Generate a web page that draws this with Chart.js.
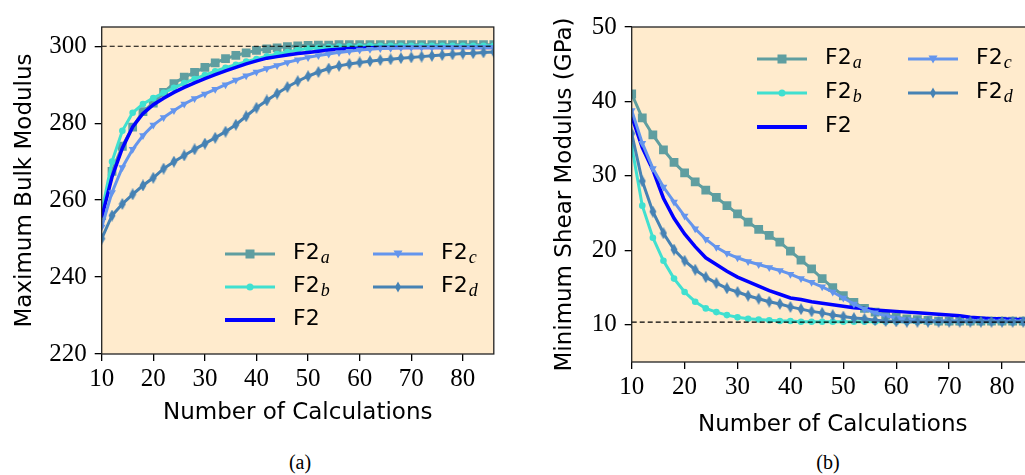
<!DOCTYPE html>
<html>
<head>
<meta charset="utf-8">
<script src="https://cdn.jsdelivr.net/npm/chart.js@4.4.1/dist/chart.umd.min.js"></script>
<style>
    body { margin: 0; width: 1025px; height: 475px; overflow: hidden; background: #fff; position: relative; }
    .panel { position: absolute; top: 0; }
    .caption { position: absolute; font-family: 'Liberation Serif', serif; font-size: 20px; transform: translateX(-50%); color: #000; }
    .item { position: absolute; display: flex; align-items: center; height: 30px; font-family: 'DejaVu Sans', sans-serif; font-size: 22px; color: #000; }
    .item svg { position: absolute; top: 8px; }
    .item span { position: absolute; white-space: nowrap; top: 0px; }
    .item sub { font-family: 'Liberation Serif', serif; font-style: italic; font-size: 18px; vertical-align: -4px; margin-left: 1px; }
</style>
</head>
<body>
<div class="panel" style="left:0;width:500px;height:440px"><canvas id="bulkChart" width="500" height="440"></canvas></div>
<div class="panel" style="left:540px;width:500px;height:450px"><canvas id="shearChart" width="500" height="450"></canvas></div>
<div class="caption" style="left:300px;top:451px">(a)</div>
<div class="caption" style="left:828px;top:451px">(b)</div>
<div id="bulkLegend"></div>
<div id="shearLegend"></div>

<script>
// Numero de calculos (eje x, comun a ambos paneles)
const calcCounts = [10, 12, 14, 16, 18, 20, 22, 24, 26, 28, 30, 32, 34, 36, 38, 40, 42, 44, 46, 48,
    50, 52, 54, 56, 58, 60, 62, 64, 66, 68, 70, 72, 74, 76, 78, 80, 82, 84, 86];

// (a) Maximum Bulk Modulus
const bulkF2a = [256, 267.5, 274, 279, 283, 285.2, 288, 290.3, 292, 293.2, 294.5, 295.7, 296.8, 297.6, 298.3, 298.9, 299.3, 299.6, 299.9, 300.1,
    300.2, 300.3, 300.3, 300.4, 300.4, 300.4, 300.4, 300.4, 300.4, 300.4, 300.4, 300.4, 300.4, 300.4, 300.4, 300.4, 300.4, 300.4, 300.4];
const bulkF2b = [257, 270, 278, 282.7, 285, 286.5, 287.9, 289.2, 290.4, 291.5, 292.5, 293.5, 294.4, 295.2, 296, 296.7, 297.4, 298, 298.5, 299,
    299.4, 299.6, 299.8, 299.9, 300, 300, 300.1, 300.1, 300.1, 300.1, 300.1, 300.1, 300.1, 300.1, 300.1, 300.1, 300.1, 300.1, 300.1];
const bulkF2 = [255.5, 266, 273.5, 279, 282.5, 284.8, 286.5, 288, 289.3, 290.5, 291.6, 292.6, 293.6, 294.5, 295.4, 296.2, 296.9, 297.3, 297.7, 298.1,
    298.4, 298.7, 299, 299.2, 299.4, 299.5, 299.6, 299.7, 299.7, 299.7, 299.7, 299.7, 299.7, 299.7, 299.7, 299.7, 299.7, 299.7, 299.7];
const bulkF2c = [253, 262, 268.5, 273.2, 276.8, 279.5, 281.5, 283.3, 285, 286.4, 287.6, 288.8, 290, 291.2, 292.3, 293.3, 294.2, 295, 295.8, 296.5,
    297.1, 297.6, 298, 298.4, 298.7, 299, 299.2, 299.4, 299.5, 299.6, 299.7, 299.7, 299.7, 299.7, 299.7, 299.7, 299.7, 299.7, 299.7];
const bulkF2d = [250, 256, 259, 261.5, 263.8, 265.8, 268.2, 270, 271.6, 273.2, 274.7, 276.2, 277.8, 279.6, 281.8, 284, 285.9, 287.7, 289.4, 290.9,
    292.2, 293.3, 294.2, 294.9, 295.4, 295.8, 296.1, 296.4, 296.6, 296.9, 297.1, 297.3, 297.5, 297.7, 297.9, 298.1, 298.2, 298.4, 298.5];
const bulkReference = 300;

// (b) Minimum Shear Modulus (GPa)
const shearF2a = [41, 37.8, 35.5, 33.5, 31.8, 30.4, 29.2, 28.1, 27.1, 26, 24.9, 23.8, 22.8, 22, 21.1, 19.9, 18.7, 17.5, 16.2, 15,
    13.9, 13, 12.2, 11.7, 11.3, 11, 10.8, 10.7, 10.6, 10.5, 10.5, 10.5, 10.5, 10.5, 10.5, 10.5, 10.5, 10.5, 10.5];
const shearF2b = [34, 26, 21.7, 18.6, 16.2, 14.4, 13.1, 12.2, 11.7, 11.3, 11, 10.8, 10.7, 10.6, 10.5, 10.5, 10.4, 10.4, 10.4, 10.4,
    10.4, 10.4, 10.4, 10.4, 10.4, 10.4, 10.4, 10.4, 10.4, 10.4, 10.4, 10.4, 10.4, 10.4, 10.4, 10.4, 10.4, 10.4, 10.4];
const shearF2 = [38, 33.8, 30.8, 27, 24.3, 22.2, 20.5, 19, 18.1, 17.2, 16.4, 15.8, 15.2, 14.6, 14.1, 13.6, 13.4, 13.1, 12.9, 12.7,
    12.5, 12.3, 12.2, 12, 11.9, 11.8, 11.7, 11.6, 11.5, 11.4, 11.3, 11.2, 11, 10.9, 10.8, 10.8, 10.7, 10.7, 10.6];
const shearF2c = [38.8, 34.4, 31, 28.5, 26.5, 24.6, 22.9, 21.5, 20.4, 19.6, 19, 18.5, 18.1, 17.7, 17.3, 16.8, 16.2, 15.7, 15.1, 14.4,
    13.6, 12.8, 12.1, 11.6, 11.2, 10.9, 10.7, 10.6, 10.5, 10.5, 10.5, 10.5, 10.5, 10.5, 10.5, 10.5, 10.5, 10.5, 10.5];
const shearF2d = [35.7, 29.3, 25.2, 22.3, 20.1, 18.6, 17.4, 16.4, 15.6, 14.9, 14.4, 13.9, 13.5, 13.1, 12.8, 12.4, 12.1, 11.8, 11.6, 11.3,
    11.1, 10.9, 10.8, 10.6, 10.5, 10.45, 10.4, 10.4, 10.4, 10.4, 10.4, 10.4, 10.4, 10.4, 10.4, 10.4, 10.4, 10.4, 10.4];
const shearReference = 10.35;

// Colores (matplotlib named colors)
const COLORS = {
    a: '#5F9EA0',      // cadetblue
    b: '#40E0D0',      // turquoise
    base: '#0000FF',   // blue
    c: '#6495ED',      // cornflowerblue
    d: '#4682B4'       // steelblue
};
const PLOT_BG = '#FFEBCD';

// Marcador "thin diamond" (no existe en Chart.js)
function thinDiamond(color) {
    const c = document.createElement('canvas');
    c.width = 8; c.height = 12;
    const g = c.getContext('2d');
    g.fillStyle = color;
    g.beginPath();
    g.moveTo(4, 0); g.lineTo(7.5, 6); g.lineTo(4, 12); g.lineTo(0.5, 6);
    g.closePath();
    g.fill();
    return c;
}

const SERIES = [
    { key: 'a', sub: 'a', color: COLORS.a, marker: 'square' },
    { key: 'b', sub: 'b', color: COLORS.b, marker: 'circle' },
    { key: 'base', sub: '', color: COLORS.base, marker: 'none' },
    { key: 'c', sub: 'c', color: COLORS.c, marker: 'tri' },
    { key: 'd', sub: 'd', color: COLORS.d, marker: 'diamond' }
];

function pointOpts(s) {
    switch (s.marker) {
        case 'square': return { pointStyle: 'rect', pointRadius: 6.2 };
        case 'circle': return { pointStyle: 'circle', pointRadius: 3.3 };
        case 'tri': return { pointStyle: 'triangle', pointRadius: 4.5, pointRotation: 180 };
        case 'diamond': return { pointStyle: thinDiamond(s.color), pointRadius: 5 };
        default: return { pointRadius: 0 };
    }
}

function toPoints(values) {
    return calcCounts.map((x, i) => ({ x: x, y: values[i] }));
}

// Fondo y marco del area de trazado
const plotFrame = {
    id: 'plotFrame',
    beforeDraw(chart) {
        const { ctx, chartArea: a } = chart;
        ctx.save();
        ctx.fillStyle = PLOT_BG;
        ctx.fillRect(a.left, a.top, a.right - a.left, a.bottom - a.top);
        ctx.restore();
    },
    afterDraw(chart) {
        const { ctx, chartArea: a } = chart;
        ctx.save();
        ctx.strokeStyle = '#222';
        ctx.lineWidth = 1.3;
        ctx.strokeRect(a.left, a.top, a.right - a.left, a.bottom - a.top);
        ctx.restore();
    }
};

function buildChart(id, cfg) {
    const order = { a: 5, b: 4, base: 3, c: 2, d: 1 };
    const datasets = SERIES.map(s => Object.assign({
        data: toPoints(cfg.values[s.key]),
        borderColor: s.color,
        backgroundColor: s.color,
        pointBackgroundColor: s.color,
        pointBorderColor: s.color,
        pointBorderWidth: 0,
        borderWidth: s.marker === 'none' ? 3.5 : 3,
        tension: 0,
        clip: 0,
        order: order[s.key]
    }, pointOpts(s)));

    // linea de referencia discontinua
    datasets.push({
        data: calcCounts.map(x => ({ x: x, y: cfg.reference })),
        borderColor: '#000',
        borderWidth: 1.2,
        borderDash: [5, 3],
        pointRadius: 0,
        clip: 0,
        order: 0
    });

    const tickFont = { family: "'Liberation Serif', serif", size: 25 };
    const titleFont = { family: "'DejaVu Sans', sans-serif", size: 23 };
    const grid = { drawOnChartArea: false, drawTicks: true, tickLength: 7, color: '#000', lineWidth: 1.3 };

    return new Chart(document.getElementById(id), {
        type: 'line',
        data: { datasets: datasets },
        options: {
            responsive: false,
            animation: false,
            devicePixelRatio: 1,
            layout: { padding: cfg.padding },
            plugins: { legend: { display: false }, tooltip: { enabled: false } },
            scales: {
                x: {
                    type: 'linear',
                    min: 10,
                    max: 86,
                    border: { display: false },
                    grid: grid,
                    ticks: { stepSize: 10, includeBounds: false, autoSkip: false, maxRotation: 0, color: '#000', font: tickFont, padding: cfg.xTickPad },
                    title: { display: true, text: 'Number of Calculations', color: '#000', font: titleFont, padding: { top: 0, bottom: cfg.xTitlePad } },
                    afterFit(scale) { scale.height = cfg.xHeight; }
                },
                y: {
                    min: cfg.yMin,
                    max: cfg.yMax,
                    border: { display: false },
                    grid: grid,
                    ticks: { stepSize: cfg.yStep, includeBounds: false, autoSkip: false, color: '#000', font: tickFont, padding: 8 },
                    title: { display: true, text: cfg.yTitle, color: '#000', font: titleFont, padding: { top: cfg.yTitlePad, bottom: 0 } },
                    afterFit(scale) { scale.width = cfg.yWidth; }
                }
            }
        },
        plugins: [plotFrame]
    });
}

// Leyenda HTML (dos columnas, con subindices)
function markerSvg(s) {
    const cx = 25, cy = 7;
    switch (s.marker) {
        case 'square': return `<rect x="${cx - 4.5}" y="${cy - 4.5}" width="9" height="9" fill="${s.color}"/>`;
        case 'circle': return `<circle cx="${cx}" cy="${cy}" r="3.5" fill="${s.color}"/>`;
        case 'tri': return `<polygon points="${cx - 4.5},${cy - 3.5} ${cx + 4.5},${cy - 3.5} ${cx},${cy + 4.5}" fill="${s.color}"/>`;
        case 'diamond': return `<polygon points="${cx},${cy - 5.5} ${cx + 3},${cy} ${cx},${cy + 5.5} ${cx - 3},${cy}" fill="${s.color}"/>`;
        default: return '';
    }
}

function buildLegend(id, spots) {
    const host = document.getElementById(id);
    SERIES.forEach((s, i) => {
        const p = spots[i];
        const item = document.createElement('div');
        item.className = 'item';
        item.style.left = p[0] + 'px';
        item.style.top = (p[1] - 15) + 'px';
        const lw = s.marker === 'none' ? 4 : 3;
        item.innerHTML =
            `<svg width="52" height="14" style="left:0"><line x1="0" y1="7" x2="50" y2="7" stroke="${s.color}" stroke-width="${lw}"/>${markerSvg(s)}</svg>` +
            `<span style="left:68px">F2${s.sub ? '<sub>' + s.sub + '</sub>' : ''}</span>`;
        host.appendChild(item);
    });
}

buildChart('bulkChart', {
    values: { a: bulkF2a, b: bulkF2b, base: bulkF2, c: bulkF2c, d: bulkF2d },
    reference: bulkReference,
    yMin: 220, yMax: 305, yStep: 20,
    yTitle: 'Maximum Bulk Modulus',
    padding: { top: 27, right: 3, bottom: 0, left: 0 },
    yWidth: 101.7, xHeight: 86, xTitlePad: 13.2, yTitlePad: 11.2, xTickPad: 3
});

buildChart('shearChart', {
    values: { a: shearF2a, b: shearF2b, base: shearF2, c: shearF2c, d: shearF2d },
    reference: shearReference,
    yMin: 5, yMax: 50, yStep: 10,
    yTitle: 'Minimum Shear Modulus (GPa)',
    padding: { top: 27, right: 5.5, bottom: 0, left: 0 },
    yWidth: 91.7, xHeight: 88, xTitlePad: 11.2, yTitlePad: 11.2, xTickPad: 3
});

buildLegend('bulkLegend', [[225, 254], [225, 287], [225, 320], [373, 254], [373, 287]]);
buildLegend('shearLegend', [[757, 59], [757, 93], [757, 127], [908, 59], [908, 93]]);
</script>
</body>
</html>
